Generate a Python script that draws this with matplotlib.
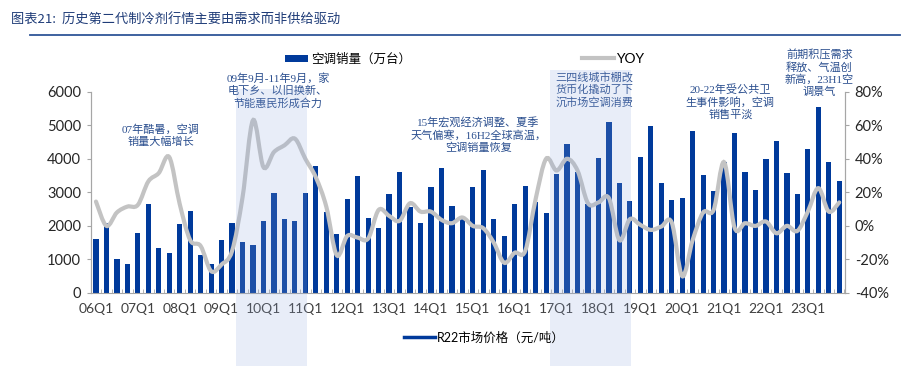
import numpy as np
import matplotlib
matplotlib.use('Agg')
import matplotlib.pyplot as plt
from matplotlib.path import Path
from matplotlib.patches import PathPatch, Rectangle, Patch
from matplotlib.lines import Line2D
import matplotlib.transforms as mtransforms

plt.rcParams['font.family'] = ['Lato', 'Noto Sans CJK SC', 'DejaVu Sans']

years = ['06', '07', '08', '09', '10', '11', '12', '13', '14',
         '15', '16', '17', '18', '19', '20', '21', '22', '23']
quarters = [y + 'Q' + str(q) for y in years for q in range(1, 5)]

# 空调销量 (万台), per quarter
sales = [1600, 2100, 1000, 850,
         1780, 2660, 1330, 1200,
         2060, 2450, 1140, 870,
         1570, 2100, 1510, 1430,
         2150, 2990, 2200, 2150,
         2990, 3770, 2420, 1750,
         2790, 3490, 2240, 1930,
         2950, 3600, 2550, 2100,
         3170, 3730, 2590, 2210,
         3150, 3670, 2220, 1700,
         2640, 3180, 2720, 2370,
         3540, 4440, 3620, 2650,
         4010, 5090, 3290, 2740,
         4040, 4970, 3270, 2780,
         2830, 4820, 3530, 3050,
         3910, 4780, 3610, 3070,
         3980, 4520, 3590, 2940,
         4290, 5550, 3890, 3350]

# YOY (%)
yoy = [14.5, 0, 8, 11.5,
       12.5, 26.5, 31.5, 41,
       13, -8.5, -12, -27,
       -23, -15, 17, 63,
       35, 44, 48, 52,
       40, 29, 11.5, -17.5,
       -6, -7, -7.5, 9.5,
       6, 3, 13.5, 8.5,
       8.5, 3.6, 1.6, 5,
       0, -1.4, -10, -22,
       -16, -15, 16, 40,
       33, 40, 33, 13.5,
       14, 16.5, -8.5, 4,
       0.6, -2.4, -0.4, 2,
       -30, -8.4, 8, 9.5,
       38, -1, 1.6, 0,
       2.6, -4.4, 0, -3,
       8.5, 22.5, 8.5, 14]

left_ticks = [0, 1000, 2000, 3000, 4000, 5000, 6000]
right_ticks = [-40, -20, 0, 20, 40, 60, 80]

shades = [('09Q2', '11Q1'), ('16Q4', '18Q4')]

# text, x (quarter index), top of text in left-axis units
notes = [('07年酷暑，空调\n销量大幅增长', 6.2, 5030),
         ('09年9月-11年9月，家\n电下乡、以旧换新、\n节能惠民形成合力', 17.4, 6560),
         ('15年宏观经济调整、夏季\n天气偏寒，16H2全球高温，\n空调销量恢复', 36.5, 5240),
         ('三四线城市棚改\n货币化撬动了下\n沉市场空调消费', 47.6, 6600),
         ('20-22年受公共卫\n生事件影响，空调\n销售平淡', 60.6, 6230),
         ('前期积压需求\n释放、气温创\n新高，23H1空\n调景气', 69.1, 7270)]

BAR = '#003a9b'
GREY = '#c3c3c3'
NOTE = '#2b4f8f'
AXIS = '#a6a6a6'


def smooth_path(xs, ys):
    # catmull-rom segments turned into cubic bezier pieces
    pts = np.column_stack([xs, ys]).astype(float)
    n = len(pts)
    verts = [pts[0]]
    codes = [Path.MOVETO]
    for i in range(n - 1):
        p0 = pts[max(i - 1, 0)]
        p1 = pts[i]
        p2 = pts[i + 1]
        p3 = pts[min(i + 2, n - 1)]
        verts += [p1 + (p2 - p0) / 6.0, p2 - (p3 - p1) / 6.0, p2]
        codes += [Path.CURVE4] * 3
    return Path(verts, codes)


fig = plt.figure(figsize=(9.02, 3.66), dpi=100)
ax = fig.add_axes([0.1006, 0.1995, 0.8362, 0.55])
ax2 = ax.twinx()

x = np.arange(len(quarters))
ax.bar(x, sales, width=0.5, color=BAR, zorder=2)
ax.set_xlim(-0.42, len(quarters) - 0.45)
ax.set_ylim(0, 6000)
ax.set_yticks(left_ticks)

ax2.add_patch(PathPatch(smooth_path(x, yoy), fill=False, edgecolor=GREY,
                        linewidth=3, capstyle='round', zorder=3))
ax2.set_ylim(-40, 80)
ax2.set_yticks(right_ticks)
ax2.set_yticklabels(['%d%%' % t for t in right_ticks])

q1_idx = [i for i, q in enumerate(quarters) if q.endswith('Q1')]
ax.set_xticks(q1_idx)
ax.set_xticklabels([quarters[i] for i in q1_idx])
ax.set_xticks(np.arange(len(quarters) + 1) - 0.5, minor=True)
ax.tick_params(axis='x', which='major', length=0, pad=7, labelsize=10,
               labelcolor='#404040')
ax.tick_params(axis='x', which='minor', length=3, direction='in',
               color=AXIS)
ax.tick_params(axis='y', length=3, color=AXIS, labelsize=10.5,
               labelcolor='#262626', pad=4)
ax2.tick_params(axis='y', length=3, color=AXIS, labelsize=10.5,
                labelcolor='#262626', pad=4)

for a in (ax, ax2):
    a.spines['top'].set_visible(False)
    for s in ('left', 'right', 'bottom'):
        a.spines[s].set_color(AXIS)
ax2.spines['bottom'].set_visible(False)

# shaded periods, from the plot top down to the bottom of the figure
trans = mtransforms.blended_transform_factory(ax.transData, fig.transFigure)
tops = [0.757, 0.81]
for (a, b), top in zip(shades, tops):
    x0 = quarters.index(a) + 0.4
    x1 = quarters.index(b) + 0.15
    fig.patches.append(Rectangle((x0, 0), x1 - x0, top, transform=trans,
                                 facecolor='#8fa8dc', alpha=0.2,
                                 edgecolor='none', zorder=5))

for txt, xn, yv in notes:
    ax2.text(xn, yv, txt, transform=ax.transData, ha='center', va='top',
             fontsize=8, color=NOTE, linespacing=1.22, zorder=6,
             family=['Liberation Serif', 'Noto Sans CJK SC'])

fig.text(0.012, 0.948, '图表21:  历史第二代制冷剂行情主要由需求而非供给驱动',
         fontsize=9.5, color='#1f3c78', style='italic', va='center',
         family=['Noto Sans CJK SC', 'DejaVu Sans'])
fig.add_artist(Line2D([0.033, 0.998], [0.904, 0.904], color='#2f5597',
                      linewidth=1.3, transform=fig.transFigure))

leg1 = fig.legend(handles=[Patch(facecolor=BAR)], labels=['空调销量（万台）'],
                  loc='center left', bbox_to_anchor=(0.310, 0.838),
                  frameon=False, handlelength=1.85, handleheight=0.55,
                  handletextpad=0.3, borderaxespad=0,
                  prop={'family': ['Noto Sans CJK SC'], 'size': 9})
leg2 = fig.legend(handles=[Line2D([], [], color=GREY, linewidth=3)],
                  labels=['YOY'], loc='center left',
                  bbox_to_anchor=(0.639, 0.838), frameon=False,
                  handlelength=2.3, handletextpad=0.15, borderaxespad=0,
                  prop={'family': ['Lato'], 'size': 10})
leg3 = fig.legend(handles=[Line2D([], [], color=BAR, linewidth=2.5)],
                  labels=['R22市场价格（元/吨）'], loc='center left',
                  bbox_to_anchor=(0.442, 0.078), frameon=False,
                  handlelength=2.5, handletextpad=0.15, borderaxespad=0,
                  prop={'family': ['Lato', 'Noto Sans CJK SC'], 'size': 9})

fig.savefig('out.png', dpi=100)
plt.close(fig)
